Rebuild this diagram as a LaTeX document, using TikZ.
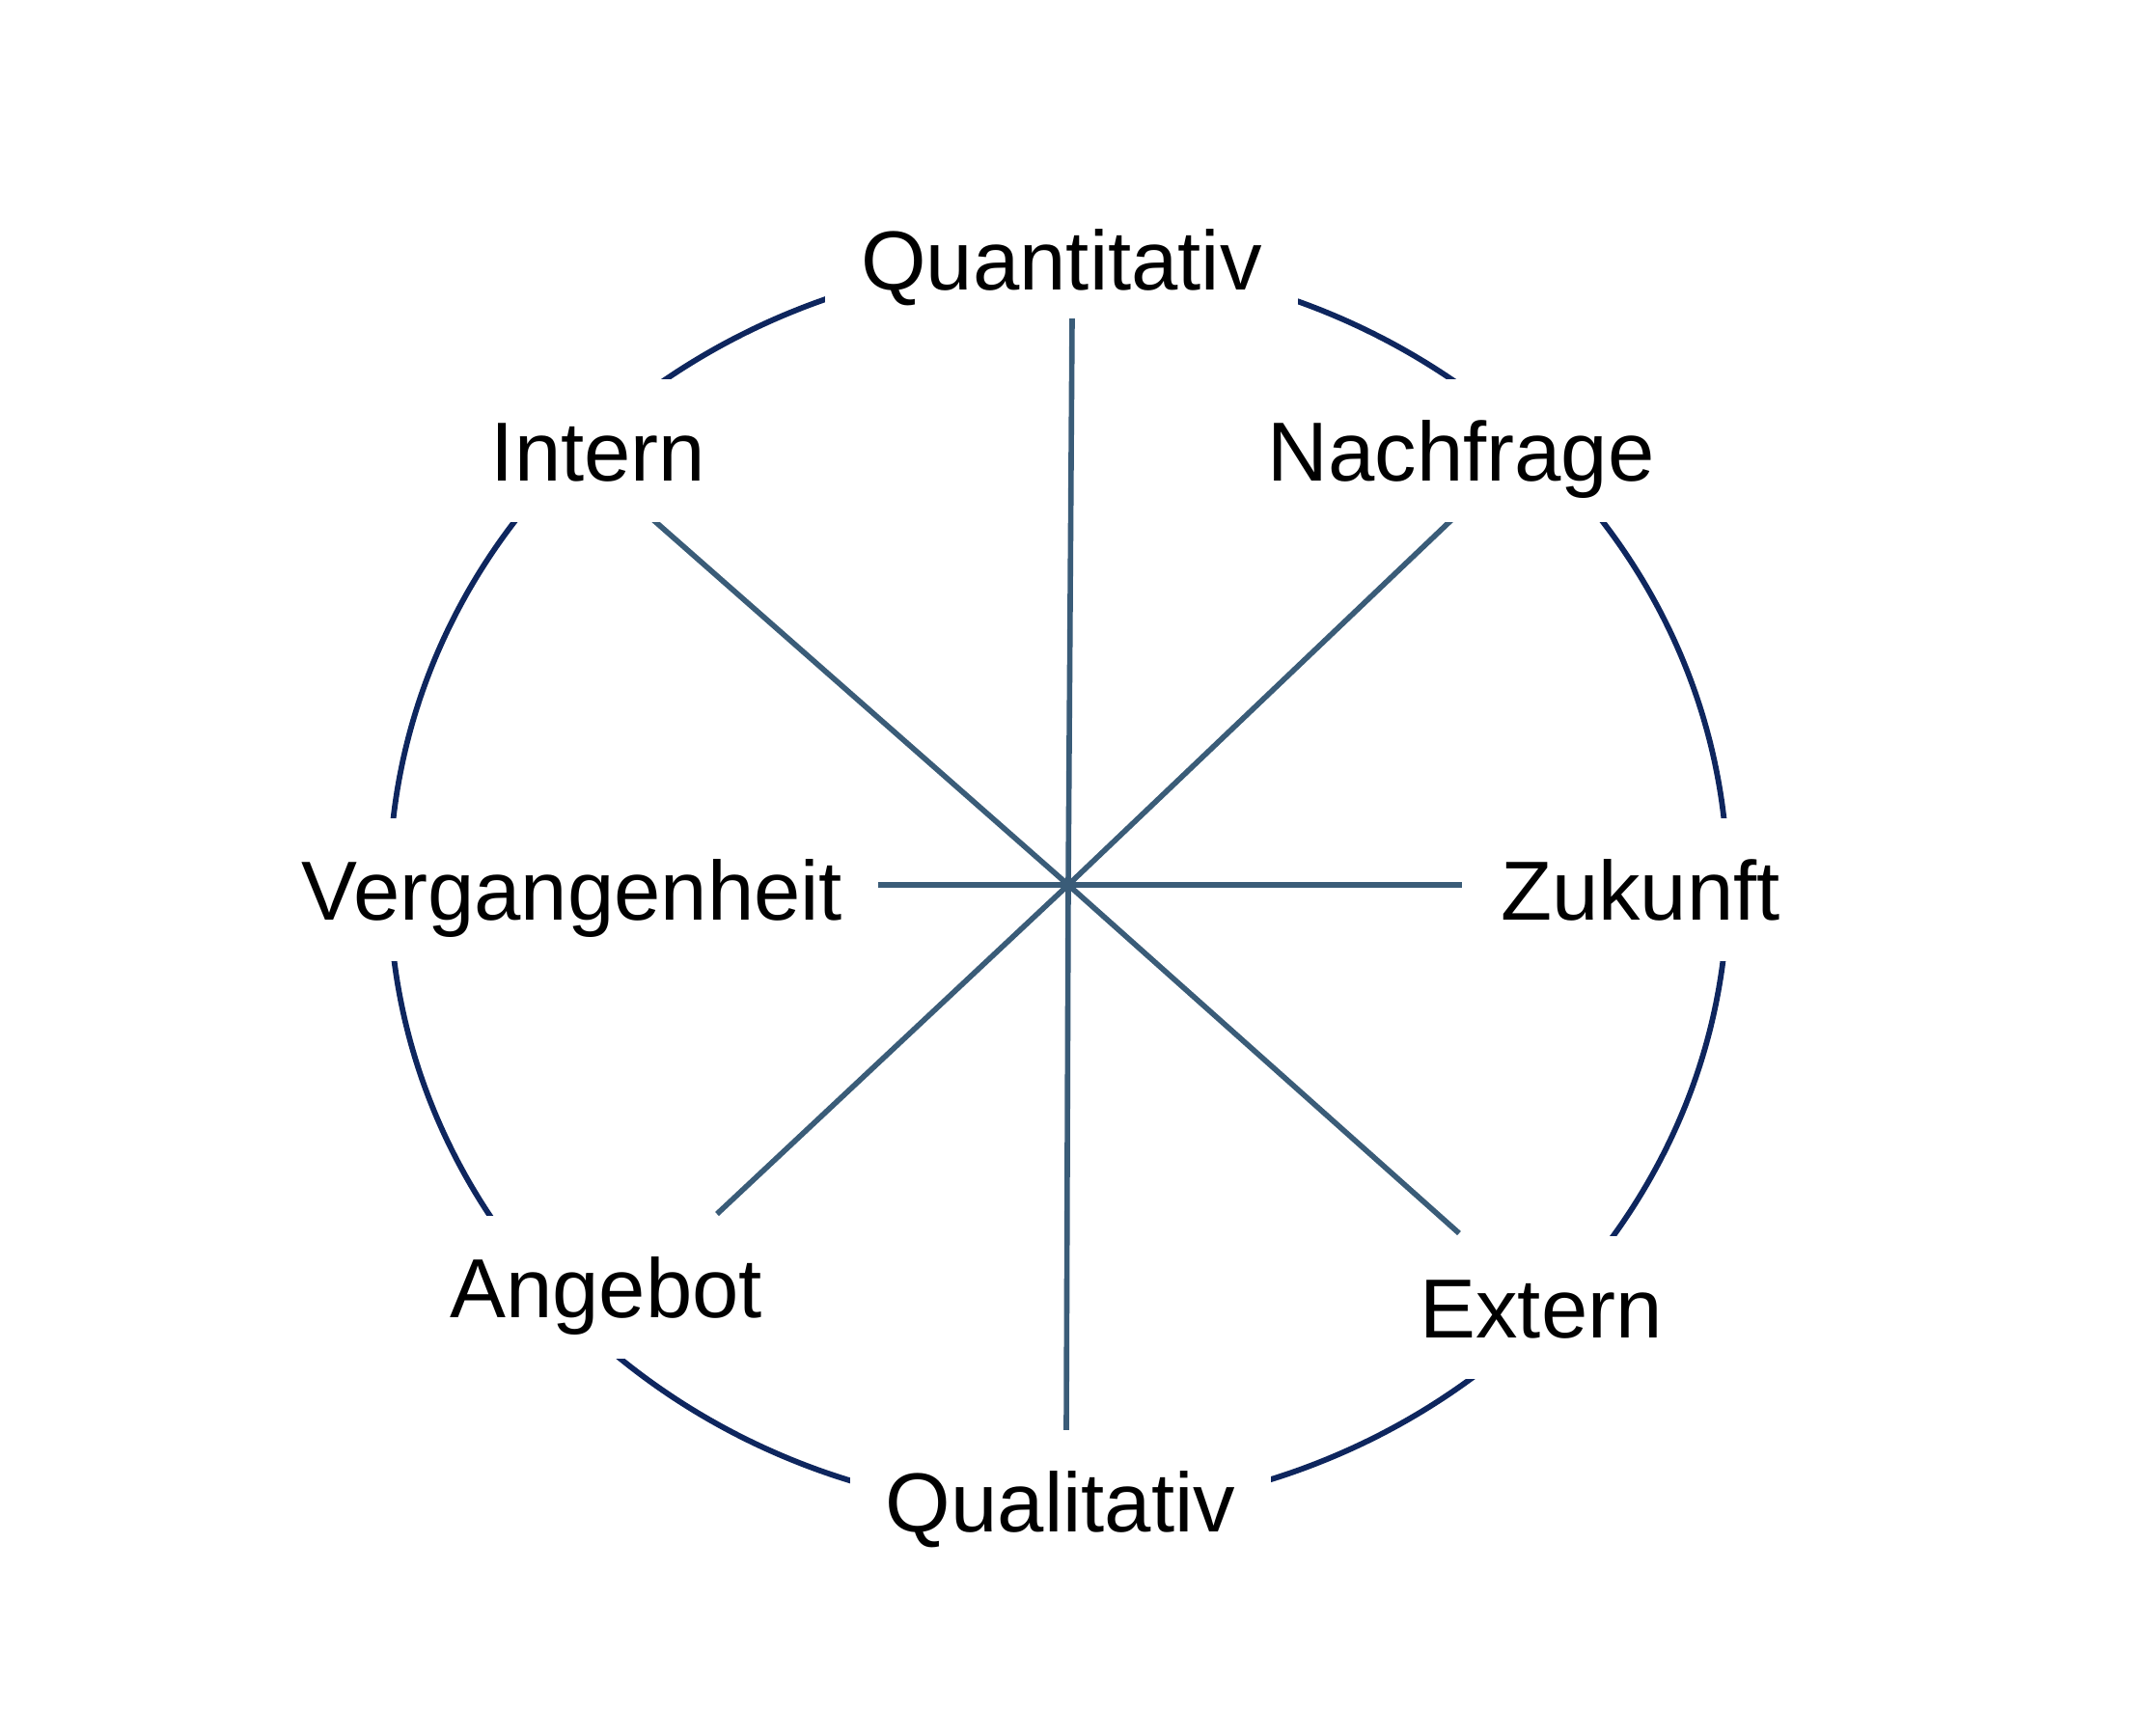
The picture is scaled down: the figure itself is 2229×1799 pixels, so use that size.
\documentclass[tikz,border=0pt]{standalone}
\usepackage{fontspec}
\setmainfont{Liberation Sans}
\definecolor{ringcol}{RGB}{14,38,94}
\definecolor{spokecol}{RGB}{58,92,120}
\tikzset{
  ring/.style={draw=ringcol, line width=1.65pt},
  spoke/.style={draw=spokecol, line width=1.6pt},
  lbl/.style={fill=white, anchor=base, text height=0.62cm, text depth=0cm,
              inner xsep=0.37cm, inner ysep=0.43cm,
              font=\fontsize{24.7pt}{30pt}\selectfont, text=black}
}
\begin{document}
\begin{tikzpicture}[x=0.01cm, y=-0.01cm]
\fill[white] (0,0) rectangle (2229,1799);
\useasboundingbox (0,0) rectangle (2229,1799);
% ring
\draw[ring] (1097,918) ellipse [x radius=6.93cm, y radius=6.48cm];
% spokes
\coordinate (c) at (1107,917);
\coordinate (eq) at (1111,330);
\coordinate (el) at (1105,1482);
\coordinate (ev) at (907,917);
\coordinate (ez) at (1515,917);
\coordinate (ei) at (675,537);
\coordinate (en) at (1506,537);
\coordinate (ea) at (743,1258);
\coordinate (ee) at (1512,1278);
\draw[spoke] (c) -- (eq);
\draw[spoke] (c) -- (el);
\draw[spoke] (c) -- (ev);
\draw[spoke] (c) -- (ez);
\draw[spoke] (c) -- (ei);
\draw[spoke] (c) -- (en);
\draw[spoke] (c) -- (ea);
\draw[spoke] (c) -- (ee);
% labels
\node[lbl, inner ysep=0.3cm] (quant) at (1100,300) {Quantitativ};
\node[lbl] (intern) at (620,498) {Intern};
\node[lbl] (nach) at (1514,498) {Nachfrage};
\node[lbl] (verg) at (593,953) {Vergangenheit};
\node[lbl] (zuk) at (1700,953) {Zukunft};
\node[lbl] (ang) at (628,1365) {Angebot};
\node[lbl] (ext) at (1597,1386) {Extern};
\node[lbl] (qual) at (1099,1587) {Qualitativ};
\end{tikzpicture}
\end{document}
